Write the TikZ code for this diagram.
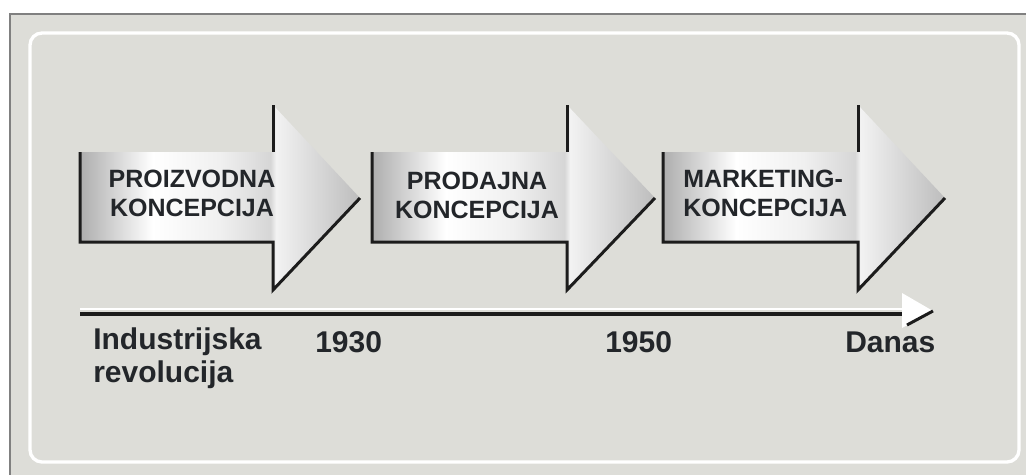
\documentclass[tikz,border=0pt]{standalone}
\usepackage{fontspec}
\setmainfont{Liberation Sans}
\usepackage{tikz}
\usepackage{xcolor}

\definecolor{panelgray}{RGB}{221,221,216}
\definecolor{framegray}{RGB}{128,128,128}
\definecolor{edgedark}{RGB}{28,28,28}
\definecolor{textdark}{RGB}{35,38,42}
\pgfdeclarehorizontalshading{arrowfill}{100bp}{color(0bp)=(white!68!black); color(25bp)=(white!68!black); color(38bp)=(white); color(50bp)=(white!94!black); color(59bp)=(white!84!black); color(60bp)=(white!95!black); color(75bp)=(white!74!black); color(100bp)=(white!74!black)}

\begin{document}
\begin{tikzpicture}[x=0.75pt,y=-0.75pt]
\tikzset{
  phase/.style={font=\bfseries\fontsize{18.75pt}{21.75pt}\selectfont, text=textdark, inner sep=0pt, align=center},
  era/.style={font=\bfseries\fontsize{22.5pt}{25pt}\selectfont, text=textdark, inner sep=0pt},
  edge/.style={edgedark, line width=2.25pt}
}
\useasboundingbox (0,0) rectangle (1026,475);
\fill [white] (0,0) rectangle (1026,475);
\fill [panelgray] (10,14) rectangle (1026,475);
\draw [framegray, line width=1.5pt] (10,475) -- (10,14) -- (1026,14);
\draw [white, line width=2.5pt, rounded corners=9pt] (30,33) rectangle (1019,462);
% proizvodna
\shade [shading=arrowfill] (80,152) -- (273,152) -- (273,105) -- (360,198) -- (273,290) -- (273,242) -- (80,242) -- cycle;
\draw [edge] (273,105) -- (273,152);
\draw [edge] (80,152) -- (80,242) -- (273,242) -- (273,290) -- (360,198);
% prodajna
\shade [shading=arrowfill] (372,152) -- (567,152) -- (567,105) -- (655,198) -- (567,290) -- (567,242) -- (372,242) -- cycle;
\draw [edge] (567,105) -- (567,152);
\draw [edge] (372,152) -- (372,242) -- (567,242) -- (567,290) -- (655,198);
% marketing
\shade [shading=arrowfill] (663,152) -- (858,152) -- (858,105) -- (945,198) -- (858,290) -- (858,242) -- (663,242) -- cycle;
\draw [edge] (858,105) -- (858,152);
\draw [edge] (663,152) -- (663,242) -- (858,242) -- (858,290) -- (945,198);
\node [phase, anchor=north] (proizvodna) at (192,170) {PROIZVODNA\\KONCEPCIJA};
\node [phase, anchor=north] (prodajna) at (477,172) {PRODAJNA\\KONCEPCIJA};
\node [phase, anchor=north west, align=left] (marketing) at (683,170) {MARKETING-\\KONCEPCIJA};
% time axis
\draw [white, line width=2pt] (80,309) -- (903,309);
\draw [edgedark, line width=3pt] (80,313.5) -- (903,313.5);
\fill [white] (902,293) -- (933,311) -- (902,328) -- cycle;
\draw [edgedark, line width=2.25pt] (907,325) -- (933,311);
\node [era, anchor=north west, align=left] (industrija) at (93,327) {Industrijska\\revolucija};
\node [era, anchor=base west] (y1930) at (315,352) {1930};
\node [era, anchor=base west] (y1950) at (605,352) {1950};
\node [era, anchor=base west] (danas) at (845,352) {Danas};
\end{tikzpicture}
\end{document}
